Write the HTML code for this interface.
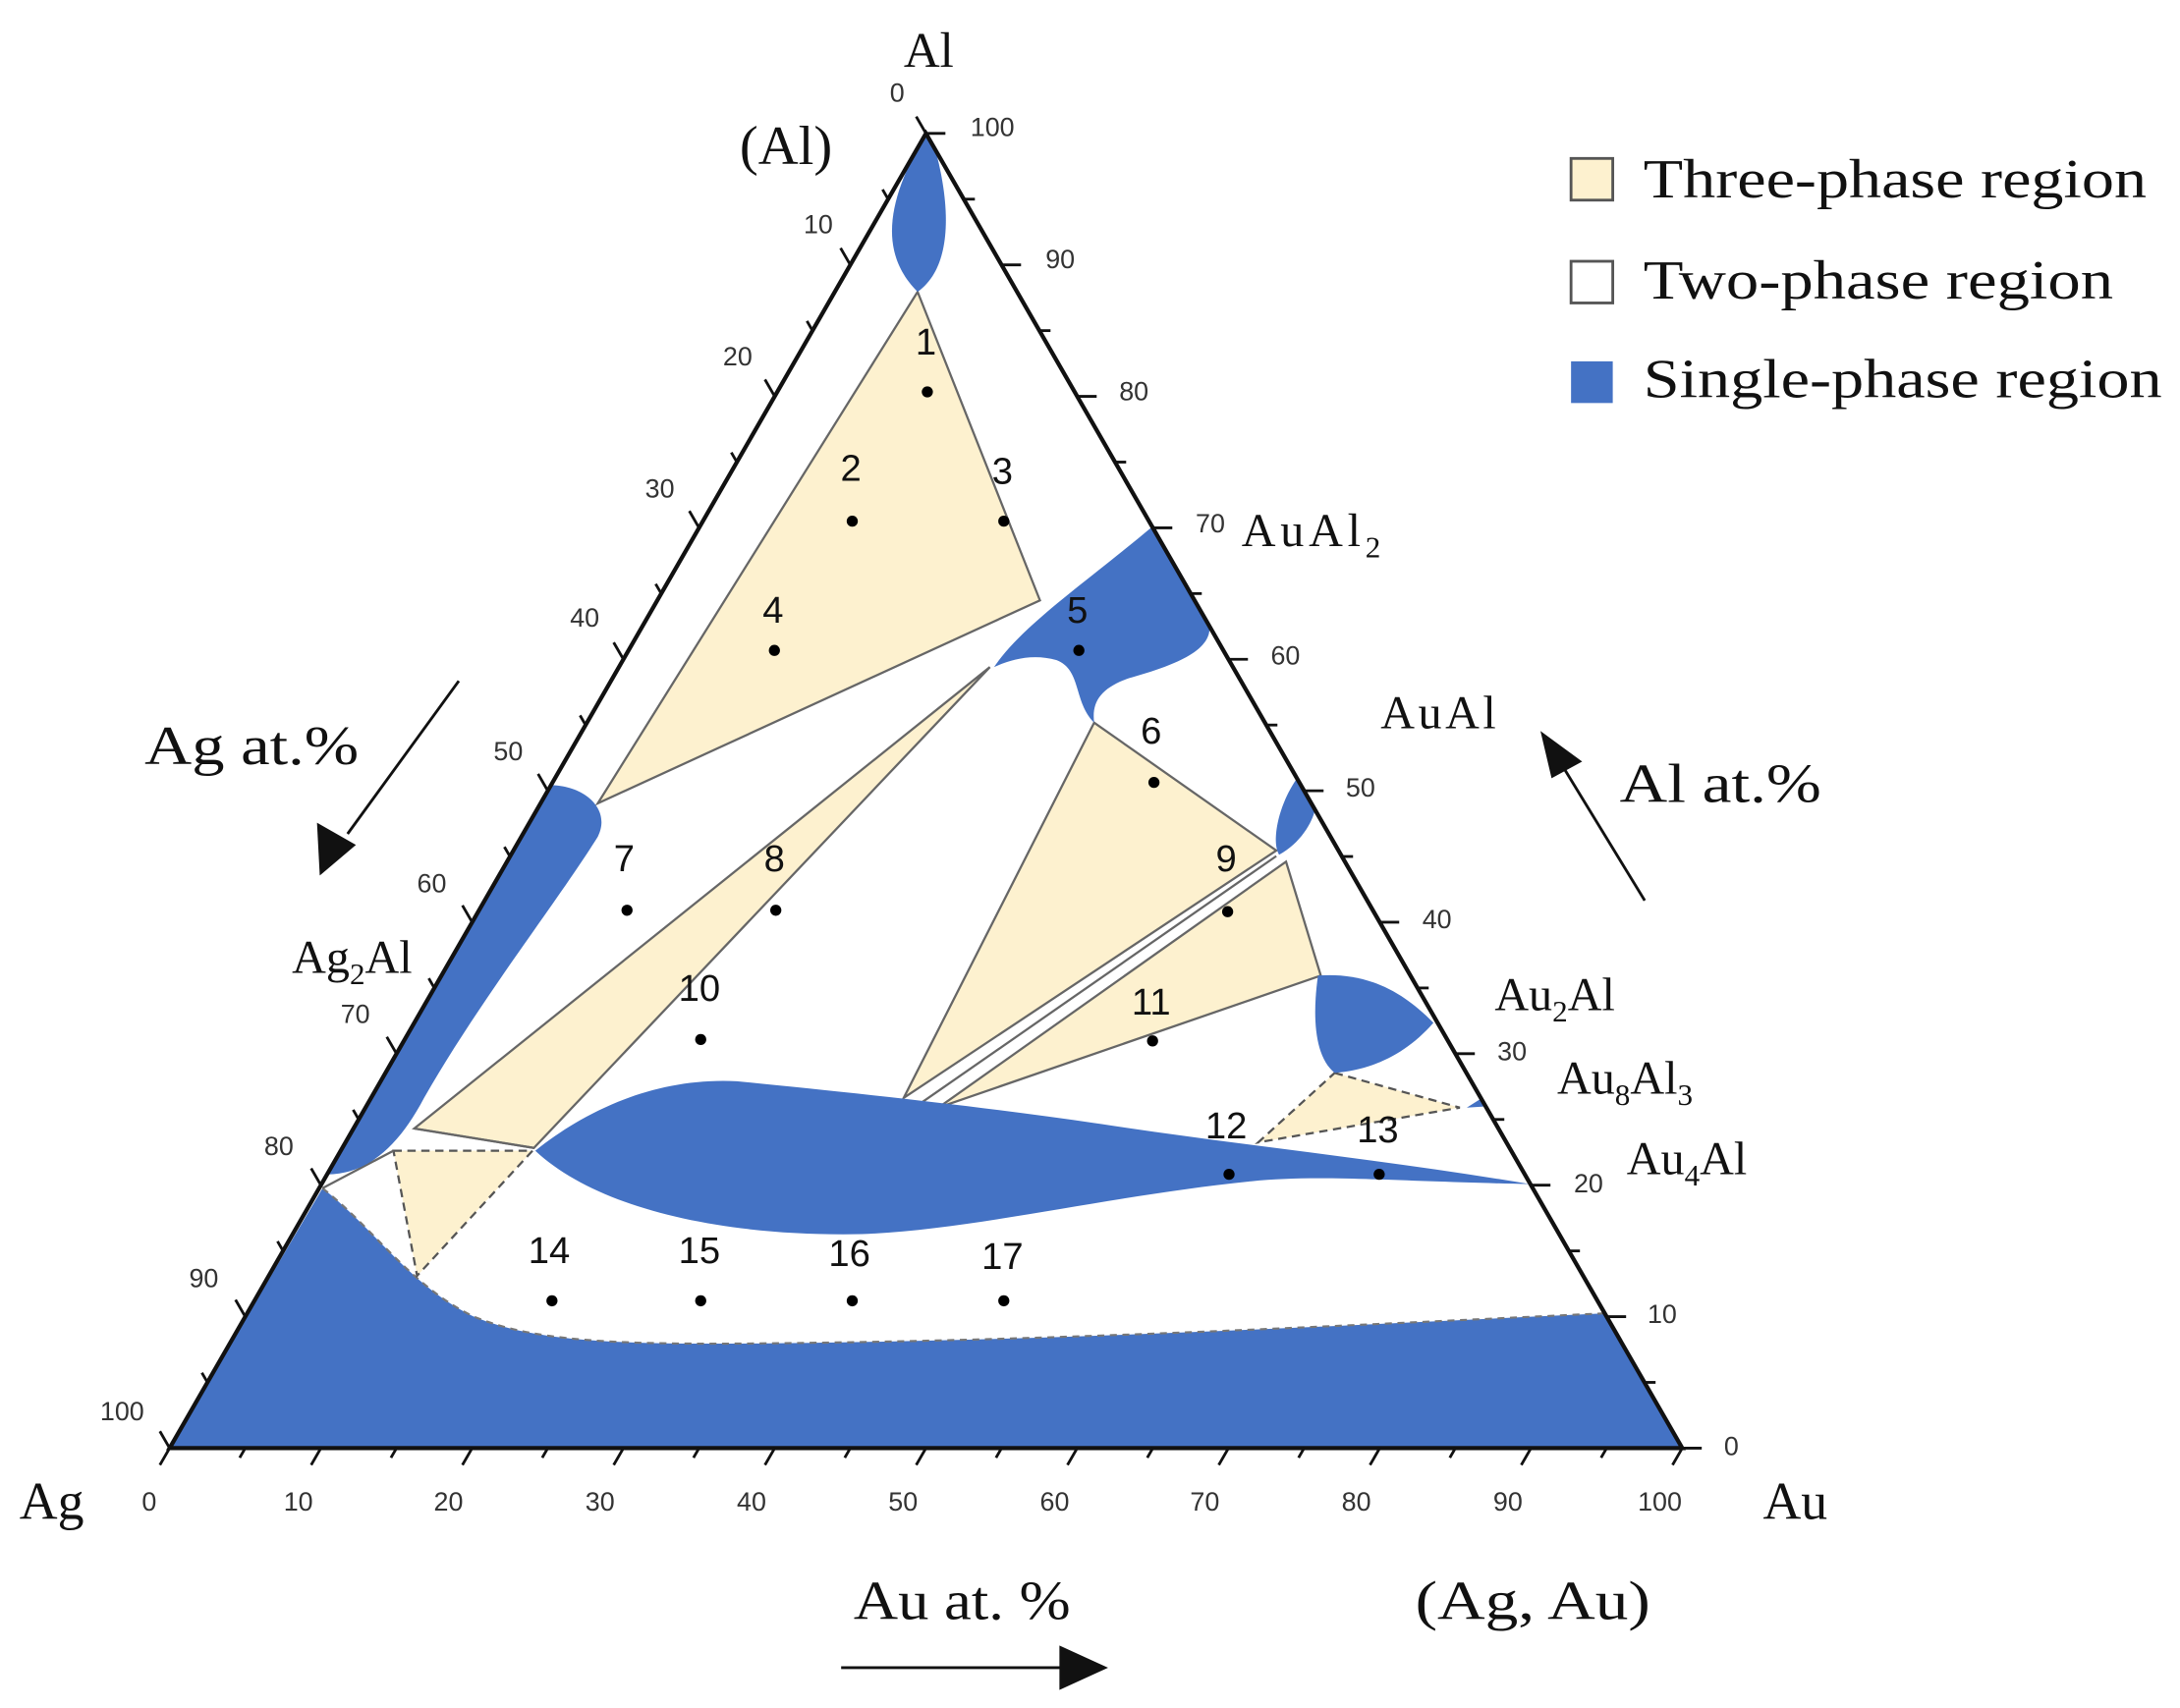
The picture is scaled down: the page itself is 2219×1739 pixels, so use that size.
<!DOCTYPE html>
<html><head><meta charset="utf-8"><style>
html,body{margin:0;padding:0;background:#fff;}
svg{display:block;}
.s{font-family:"Liberation Serif",serif;fill:#111;}
.n{font-family:"Liberation Sans",sans-serif;fill:#111;}
.t{font-family:"Liberation Sans",sans-serif;fill:#333;font-size:19px;}
</style></head><body>
<svg width="2219" height="1739" viewBox="0 0 1568 1229" preserveAspectRatio="none" xmlns="http://www.w3.org/2000/svg">
<!-- bottom blue -->
<path d="M122,1042 L232,855 C270,885 295,925 340,947 C390,968 460,968 600,966 C800,963 1000,952 1155,945 L1210,1042 Z" fill="#4472c4"/>
<path d="M232,855 C270,885 295,925 340,947 C390,968 460,968 600,966 C800,963 1000,952 1155,945" fill="none" stroke="#777" stroke-width="1.5" stroke-dasharray="5,4"/>
<!-- yellow regions -->
<g fill="#fdf1cf" stroke="#666" stroke-width="1.6">
<polygon points="660,210 748,432 430,578"/>
<polygon points="712,480 298,812 384,826"/>
<polygon points="787,520 918,612 650,790"/>
<polygon points="925,620 950,702 675,797"/>
</g>
<line x1="918" y1="616" x2="662" y2="794" stroke="#666" stroke-width="1.6"/>
<g fill="#fdf1cf" stroke="#555" stroke-width="1.6" stroke-dasharray="6,4">
<polygon points="283,828 383,828 300,918"/>
<polygon points="960,772 1050,797 905,822"/>
</g>
<line x1="298" y1="812" x2="384" y2="826" stroke="#666" stroke-width="1.6"/>
<line x1="283" y1="828" x2="232" y2="855" stroke="#666" stroke-width="1.6"/>
<!-- blue phases -->
<g fill="#4472c4">
<path d="M666,96 C640,140 630,180 660,210 C688,190 682,140 672,105 Z"/>
<path d="M715,480 C735,450 780,420 830,378 L870,452 C870,470 840,480 812,488 C792,495 785,505 787,520 C772,505 778,482 760,475 C742,470 726,475 715,480 Z"/>
<path d="M933,560 C920,578 914,605 920,615 C935,607 944,592 946,582 Z"/>
<path d="M948,702 C975,700 1003,707 1031,736 C1010,760 985,770 960,772 C945,760 944,730 948,702 Z"/>
<path d="M1055,797 L1066,790 L1070,796 Z"/>
<path d="M385,828 C420,800 470,775 530,778 C600,785 700,795 800,810 C900,825 1000,835 1100,852 C1000,850 950,845 900,850 C800,860 700,885 620,888 C520,890 430,870 385,828 Z"/>
<path d="M396,565 C420,565 440,582 430,602 C400,650 345,720 305,790 C285,828 262,845 235,845 Z"/>
</g>
<!-- triangle -->
<polygon points="122,1042 1210,1042 666,96" fill="none" stroke="#111" stroke-width="3"/>
<g id="ticks" stroke="#111" stroke-width="2"></g>
<!-- tick labels -->
<g class="t">
<text x="640" y="73">0</text><text x="578" y="168">10</text><text x="520" y="263">20</text><text x="464" y="358">30</text><text x="410" y="451">40</text><text x="355" y="547">50</text><text x="300" y="642">60</text><text x="245" y="736">70</text><text x="190" y="831">80</text><text x="136" y="926">90</text><text x="72" y="1022">100</text>
<text x="698" y="98">100</text><text x="752" y="193">90</text><text x="805" y="288">80</text><text x="860" y="383">70</text><text x="914" y="478">60</text><text x="968" y="573">50</text><text x="1023" y="668">40</text><text x="1077" y="763">30</text><text x="1132" y="858">20</text><text x="1185" y="952">10</text><text x="1240" y="1047">0</text>
<text x="102" y="1087">0</text><text x="204" y="1087">10</text><text x="312" y="1087">20</text><text x="421" y="1087">30</text><text x="530" y="1087">40</text><text x="639" y="1087">50</text><text x="748" y="1087">60</text><text x="856" y="1087">70</text><text x="965" y="1087">80</text><text x="1074" y="1087">90</text><text x="1178" y="1087">100</text>
</g>
<!-- points -->
<g fill="#000">
<circle cx="667" cy="282" r="4"/><circle cx="613" cy="375" r="4"/><circle cx="722" cy="375" r="4"/><circle cx="557" cy="468" r="4"/><circle cx="776" cy="468" r="4"/><circle cx="830" cy="563" r="4"/><circle cx="451" cy="655" r="4"/><circle cx="558" cy="655" r="4"/><circle cx="883" cy="656" r="4"/><circle cx="504" cy="748" r="4"/><circle cx="829" cy="749" r="4"/><circle cx="884" cy="845" r="4"/><circle cx="992" cy="845" r="4"/><circle cx="397" cy="936" r="4"/><circle cx="504" cy="936" r="4"/><circle cx="613" cy="936" r="4"/><circle cx="722" cy="936" r="4"/>
</g>
<g class="n" font-size="27" text-anchor="middle">
<text x="666" y="255">1</text><text x="612" y="346">2</text><text x="721" y="348">3</text><text x="556" y="448">4</text><text x="775" y="448">5</text><text x="828" y="535">6</text><text x="449" y="627">7</text><text x="557" y="627">8</text><text x="882" y="627">9</text><text x="503" y="720">10</text><text x="828" y="730">11</text><text x="882" y="819">12</text><text x="991" y="822">13</text><text x="395" y="909">14</text><text x="503" y="909">15</text><text x="611" y="911">16</text><text x="721" y="913">17</text>
</g>
<!-- labels -->
<g class="s">
<text x="650" y="48" font-size="36">Al</text>
<text x="532" y="118" font-size="40">(Al)</text>
<text x="893" y="393" font-size="34" textLength="100">AuAl<tspan font-size="22" dy="8">2</tspan></text>
<text x="993" y="524" font-size="34" textLength="83">AuAl</text>
<text x="1165" y="577" font-size="40" textLength="145" lengthAdjust="spacingAndGlyphs">Al at.%</text>
<text x="104" y="550" font-size="40" textLength="154" lengthAdjust="spacingAndGlyphs">Ag at.%</text>
<text x="210" y="700" font-size="34">Ag<tspan font-size="22" dy="8">2</tspan><tspan dy="-8">Al</tspan></text>
<text x="1075" y="727" font-size="34">Au<tspan font-size="22" dy="8">2</tspan><tspan dy="-8">Al</tspan></text>
<text x="1120" y="787" font-size="34">Au<tspan font-size="22" dy="8">8</tspan><tspan dy="-8">Al</tspan><tspan font-size="22" dy="8">3</tspan></text>
<text x="1170" y="845" font-size="34">Au<tspan font-size="22" dy="8">4</tspan><tspan dy="-8">Al</tspan></text>
<text x="14" y="1093" font-size="38">Ag</text>
<text x="1268" y="1093" font-size="38">Au</text>
<text x="614" y="1165" font-size="40" textLength="156" lengthAdjust="spacingAndGlyphs">Au at. %</text>
<text x="1018" y="1165" font-size="40" textLength="169" lengthAdjust="spacingAndGlyphs">(Ag, Au)</text>
<text x="1182" y="142" font-size="40" textLength="362" lengthAdjust="spacingAndGlyphs">Three-phase region</text>
<text x="1182" y="215" font-size="40" textLength="338" lengthAdjust="spacingAndGlyphs">Two-phase region</text>
<text x="1182" y="286" font-size="40" textLength="373" lengthAdjust="spacingAndGlyphs">Single-phase region</text>
</g>
<rect x="1130" y="114" width="30" height="30" fill="#fdf1cf" stroke="#555" stroke-width="2"/>
<rect x="1130" y="188" width="30" height="30" fill="#fff" stroke="#555" stroke-width="2"/>
<rect x="1130" y="260" width="30" height="30" fill="#4472c4"/>
<!-- arrows -->
<line x1="1183" y1="648" x2="1125" y2="553" stroke="#111" stroke-width="2"/>
<polygon points="1108,526 1138,548 1116,560" fill="#111"/>
<line x1="330" y1="490" x2="250" y2="600" stroke="#111" stroke-width="2"/>
<polygon points="230,630 228,592 256,608" fill="#111"/>
<line x1="605" y1="1200" x2="765" y2="1200" stroke="#111" stroke-width="2"/>
<polygon points="797,1200 762,1184 762,1216" fill="#111"/>
</svg>
<script>
(function(){
var g=document.getElementById('ticks'),s='';
function P(a,l){return [122+1088*(a+l/2)/100,1042-946*l/100];}
for(var k=0;k<=100;k+=5){
 var L=(k%10==0)?14:8;
 var p=P(k,0);s+='<line x1="'+p[0]+'" y1="'+p[1]+'" x2="'+(p[0]-L*0.5)+'" y2="'+(p[1]+L*0.866)+'"/>';
 p=P(100-k,k);s+='<line x1="'+p[0]+'" y1="'+p[1]+'" x2="'+(p[0]+L)+'" y2="'+p[1]+'"/>';
 p=P(0,100-k);s+='<line x1="'+p[0]+'" y1="'+p[1]+'" x2="'+(p[0]-L*0.5)+'" y2="'+(p[1]-L*0.866)+'"/>';
}
g.innerHTML=s;
})();
</script>
</body></html>
